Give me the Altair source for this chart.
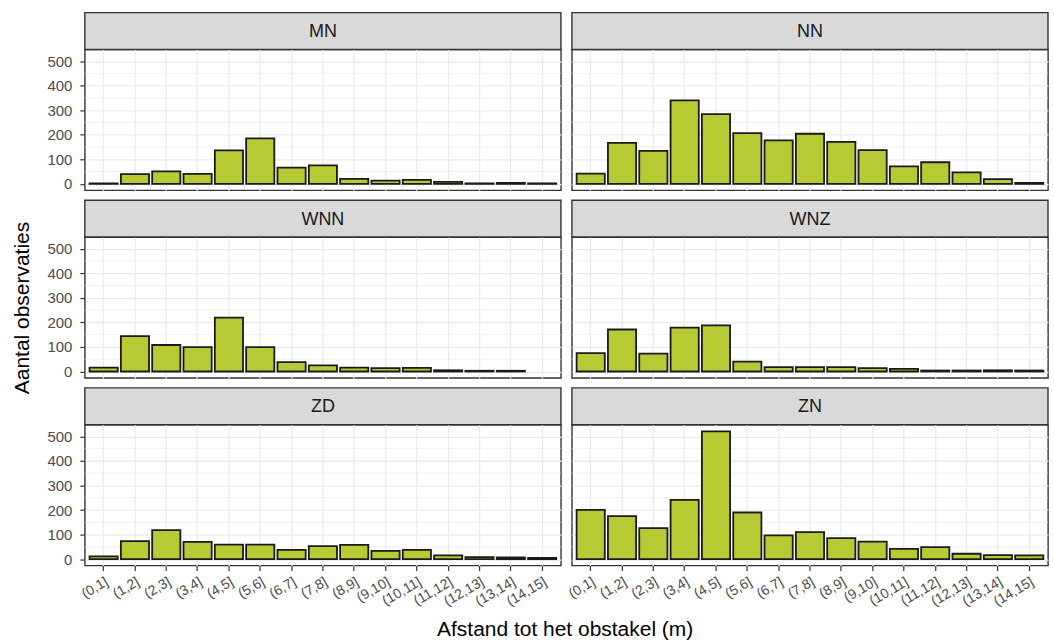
import altair as alt
import pandas as pd

# Distance classes (m) and observation counts per site
klassen = ["(0,1]", "(1,2]", "(2,3]", "(3,4]", "(4,5]", "(5,6]", "(6,7]", "(7,8]",
           "(8,9]", "(9,10]", "(10,11]", "(11,12]", "(12,13]", "(13,14]", "(14,15]"]

mn = [2, 40, 51, 41, 136, 185, 66, 75, 20, 13, 16, 8, 2, 4, 2]
nn = [42, 167, 134, 340, 284, 207, 177, 204, 171, 137, 71, 88, 47, 19, 4]
wnn = [16, 144, 108, 99, 219, 99, 38, 25, 16, 14, 15, 5, 3, 3]  # no (14,15]
wnz = [75, 171, 73, 179, 188, 40, 18, 18, 18, 14, 11, 4, 4, 5, 4]
zd = [11, 73, 118, 70, 59, 59, 38, 53, 58, 34, 38, 15, 8, 7, 5]
zn = [201, 175, 126, 241, 520, 190, 97, 110, 86, 71, 42, 49, 22, 16, 15]

sites = ["MN", "NN", "WNN", "WNZ", "ZD", "ZN"]
counts = {"MN": mn, "NN": nn, "WNN": wnn, "WNZ": wnz, "ZD": zd, "ZN": zn}

y_major = [0, 100, 200, 300, 400, 500]
y_minor = [50, 150, 250, 350, 450]

FONT = "Liberation Sans"
W = 477          # panel width
PH = 141         # panel height
SH = 37          # strip height
GAP = 10         # gap above each strip
FILL = "#B8CA33"
BORDER = "#333333"
GRID = "#EBEBEB"
Y_DOMAIN = [-26, 547]


def strip(site):
    base = alt.Chart(pd.DataFrame({"label": [site]}))
    box = base.mark_rect(fill="#D9D9D9", stroke=BORDER, strokeWidth=1.4).encode(
        x=alt.value(0), x2=alt.value(W), y=alt.value(GAP), y2=alt.value(GAP + SH)
    )
    txt = base.mark_text(
        font=FONT, fontSize=18, color="#1A1A1A", align="center", baseline="middle"
    ).encode(text="label:N", x=alt.value(W / 2), y=alt.value(GAP + SH / 2 + 1))
    return alt.layer(box, txt).properties(
        width=W, height=GAP + SH,
        view=alt.ViewBackground(fill="transparent", stroke="transparent"),
    )


def panel(site, left, bottom, show_ytitle):
    df = pd.DataFrame({"klasse": klassen[:len(counts[site])], "n": counts[site]})
    yscale = alt.Scale(domain=Y_DOMAIN, nice=False, zero=False)

    if left:
        yaxis = alt.Axis(values=y_major, grid=True, gridColor=GRID, gridWidth=1.3,
                         domain=False, ticks=True, tickColor=BORDER, tickSize=5,
                         tickWidth=1.2, labelPadding=8, labelFont=FONT,
                         labelFontSize=15, labelColor="#4D4D4D",
                         title="Aantal observaties" if show_ytitle else None,
                         titleFont=FONT, titleFontSize=21,
                         titleFontWeight="normal", titleColor="black",
                         titlePadding=14)
    else:
        yaxis = alt.Axis(values=y_major, grid=True, gridColor=GRID, gridWidth=1.3,
                         domain=False, ticks=False, labels=False, title=None)

    if bottom:
        xaxis = alt.Axis(grid=True, gridColor=GRID, gridWidth=1.3, bandPosition=0.5,
                         domain=False, ticks=True, tickColor=BORDER, tickSize=5,
                         tickWidth=1.2, labelFont=FONT, labelFontSize=14,
                         labelColor="#4D4D4D", labelAngle=330, labelAlign="right",
                         labelBaseline="top", labelPadding=4, labelOverlap=False,
                         title=None)
    else:
        xaxis = alt.Axis(grid=True, gridColor=GRID, gridWidth=1.3, bandPosition=0.5,
                         domain=False, ticks=False, labels=False, title=None)

    xscale = alt.Scale(domain=klassen, paddingInner=0.1, paddingOuter=0.15)

    # thin minor grid lines halfway between the major y gridlines
    minor = alt.Chart(pd.DataFrame({"n": y_minor})).mark_rule(
        color=GRID, strokeWidth=0.7
    ).encode(y=alt.Y("n:Q", scale=yscale, axis=yaxis))

    bars = alt.Chart(df).mark_bar(
        fill=FILL, stroke="#1A1A1A", strokeWidth=1.8
    ).encode(
        x=alt.X("klasse:N", scale=xscale, axis=xaxis, sort=klassen),
        y=alt.Y("n:Q", scale=yscale, axis=yaxis),
        y2=alt.datum(0),
    )

    return alt.layer(minor, bars).properties(
        width=W, height=PH,
        view=alt.ViewBackground(stroke=BORDER, strokeWidth=1.4),
    )


cells = []
for r in range(3):
    left_site, right_site = sites[2 * r], sites[2 * r + 1]
    bottom = r == 2
    cells += [strip(left_site), strip(right_site),
              panel(left_site, True, bottom, r == 1),
              panel(right_site, False, bottom, False)]

chart = alt.concat(
    *cells, columns=2, spacing={"row": 0, "column": 11}, bounds="flush"
).properties(
    padding={"left": 11, "top": 1, "right": 4, "bottom": 4},
    title=alt.TitleParams(
        "Afstand tot het obstakel (m)", orient="bottom", anchor="middle",
        font=FONT, fontSize=21, fontWeight="normal", color="black",
        offset=10, dx=35,
    ),
).configure(background="white")

chart.save("out.html", embed_options={"renderer": "svg", "actions": False})
